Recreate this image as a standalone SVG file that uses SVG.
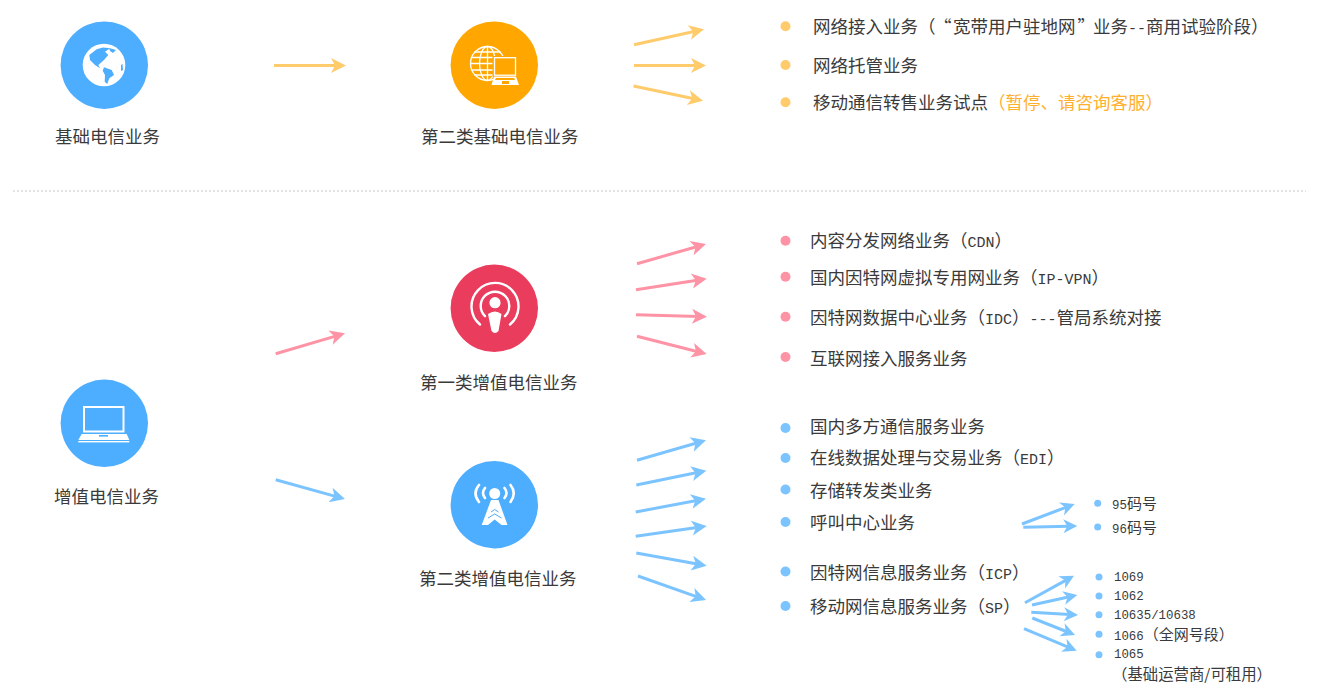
<svg xmlns="http://www.w3.org/2000/svg" width="1331" height="696" viewBox="0 0 1331 696">
<style>
text{font-family:"Noto Sans CJK SC","Noto Sans",sans-serif;font-size:17.5px;fill:#3a3a3a}
.m{font-family:"Liberation Mono","Noto Sans CJK SC",monospace;font-size:15px}
.s{font-size:15px}
.l{font-size:15.400px}
.sm{font-family:"Liberation Mono","Noto Sans CJK SC",monospace;font-size:12.400px}
.o{fill:#ffb02e}
.co{fill:#ffcb6b}.cp{fill:#ff93a6}.cb{fill:#7cc4ff}
.a{fill:none;stroke-width:3}
.ao{stroke:#ffcb6b;marker-end:url(#mo)}
.ap{stroke:#ff93a6;marker-end:url(#mp)}
.ab{stroke:#7cc4ff;marker-end:url(#mb)}
.as{stroke:#7cc4ff;stroke-width:3;marker-end:url(#ms)}
.w{fill:none;stroke:#fff;stroke-linecap:round}
</style>
<defs>
<marker id="mo" markerUnits="userSpaceOnUse" markerWidth="18" markerHeight="18" refX="7" refY="7.5" orient="auto" overflow="visible"><path d="M0 0L15 7.500L0 15L4 7.500Z" fill="#ffcb6b"/></marker>
<marker id="mp" markerUnits="userSpaceOnUse" markerWidth="18" markerHeight="18" refX="7" refY="7.5" orient="auto" overflow="visible"><path d="M0 0L15 7.500L0 15L4 7.500Z" fill="#ff93a6"/></marker>
<marker id="mb" markerUnits="userSpaceOnUse" markerWidth="18" markerHeight="18" refX="7" refY="7.5" orient="auto" overflow="visible"><path d="M0 0L15 7.500L0 15L4 7.500Z" fill="#7cc4ff"/></marker>
<marker id="ms" markerUnits="userSpaceOnUse" markerWidth="18" markerHeight="18" refX="6" refY="7" orient="auto" overflow="visible"><path d="M0 0L14 7L0 14L4 7Z" fill="#7cc4ff"/></marker>
</defs>
<rect width="1331" height="696" fill="#fff"/>
<line id="divider" x1="13" y1="191" x2="1306" y2="191" stroke="#c9c9c9" stroke-dasharray="2 2"/>

<g id="connectors">
<path class="a ao" d="M274 65.500H338"/>
<path class="a ao" d="M634 44.700L696.200 31"/>
<path class="a ao" d="M634 65.500H698"/>
<path class="a ao" d="M633.500 86L695.200 99"/>
<path class="a ap" d="M275.700 353.700L337.300 335.600"/>
<path class="a ap" d="M637 263.700L698.300 246.200"/>
<path class="a ap" d="M636 289.700L698.800 279.900"/>
<path class="a ap" d="M636 314.700L699 316.500"/>
<path class="a ap" d="M637 336.300L698.900 352"/>
<path class="a ab" d="M275.700 479.700L337.300 496.900"/>
<path class="a ab" d="M637 460.300L698.300 442.500"/>
<path class="a ab" d="M636.300 485L698.500 472.300"/>
<path class="a ab" d="M635.700 512L698.100 500.200"/>
<path class="a ab" d="M635.700 536.300L698.800 527.200"/>
<path class="a ab" d="M636.300 553L698.800 564.300"/>
<path class="a ab" d="M638 576L698.500 597.300"/>
<path class="a as" d="M1022 524L1067.200 506.800"/>
<path class="a as" d="M1023.300 527.300L1069.300 526.200"/>
<path class="a as" d="M1025 602.700L1067 579.600"/>
<path class="a as" d="M1032 605L1069.500 596.700"/>
<path class="a as" d="M1031.300 612.300L1070 614.500"/>
<path class="a as" d="M1032.300 618L1067.600 632"/>
<path class="a as" d="M1024 628.700L1069.300 647.600"/>
</g>

<g id="node-basic">
<circle cx="104.300" cy="65.200" r="43.700" fill="#4dadff"/>
<circle cx="104" cy="65" r="21.300" fill="#fff"/>
<path d="M89.300 55L96.700 49.300L103 47.500L110 48.300L105 51.700L108.300 55L104 60L98.300 65L100 68.300L95 65L90 60Z" fill="#4dadff"/>
<path d="M104 67.300L111.700 70L114 75L109.300 78.300L107.300 84L104.700 81.700L105 75L102.700 70.700Z" fill="#4dadff"/>
<path d="M109 48L116 50L113 53L110 51Z" fill="#4dadff"/>
<path d="M121 65L122.500 64L123 70L121 71Z" fill="#4dadff"/>
<text x="55" y="143">基础电信业务</text>
</g>

<g id="node-basic-2">
<circle cx="494.300" cy="65.200" r="43.700" fill="#ffa700"/>
<g class="w" stroke-width="1.300">
<circle cx="487.500" cy="63.500" r="17"/>
<ellipse cx="487.500" cy="63.500" rx="8" ry="17"/>
<path d="M487.500 46.500V80.500M471.500 57.500H503.500M470.500 63.500H504.500M471.500 70H503.500M475 52H500M475 75H500"/>
</g>
<rect x="492.500" y="56" width="25" height="21" fill="#ffa700"/>
<rect x="494.500" y="57.700" width="21" height="17.500" fill="#ffa700" stroke="#fff" stroke-width="1.300"/>
<path d="M494 76.500H516L519 85H491.500Z" fill="#fff"/>
<path d="M496 78H514L515 80H495Z" fill="#ffa700"/>
<path d="M502 81H509V84H502Z" fill="#ffa700"/>
<text x="421" y="143">第二类基础电信业务</text>
</g>

<g id="node-vas">
<circle cx="104.300" cy="423.300" r="43.700" fill="#4dadff"/>
<rect x="84" y="407" width="39.500" height="24.500" fill="#4dadff" stroke="#fff" stroke-width="2"/>
<path d="M81.700 434H126.700L129.300 440H78.300Z" fill="#fff"/>
<rect x="99" y="435" width="9" height="1.600" fill="#4dadff"/>
<rect x="78.300" y="441" width="51" height="1.400" fill="#fff"/>
<text x="54" y="503">增值电信业务</text>
</g>

<g id="node-vas-1">
<circle cx="494.300" cy="308.300" r="43.700" fill="#ea3c5c"/>
<path class="w" stroke-width="2.400" d="M480 324.500A23.500 23.500 0 1 1 510 324.500"/>
<path class="w" stroke-width="2.400" d="M485 316.200A14.300 14.300 0 1 1 505 316.200"/>
<circle cx="495" cy="302.700" r="5.600" fill="#fff"/>
<path d="M488 314Q495 309 501.500 314L498.500 331Q495 335 491.500 331Z" fill="#fff"/>
<text x="420" y="389">第一类增值电信业务</text>
</g>

<g id="node-vas-2">
<circle cx="494.300" cy="504.700" r="43.700" fill="#4dadff"/>
<circle cx="494.700" cy="493.500" r="5.500" fill="#fff"/>
<path class="w" stroke-width="2.600" d="M485 488Q481 493 485 498M504.500 488Q508.500 493 504.500 498M479 485Q472 493 479 502M510.500 485Q517 493 510.500 502"/>
<path d="M491 500H498.500L507.500 525H501.500L494.700 519.500L488 525H481.700Z" fill="#fff"/>
<path d="M491 512L494.700 509.500L498.500 512M488 518L494.700 514L501.500 518" fill="none" stroke="#4dadff" stroke-width="1"/>
<text x="419" y="585">第二类增值电信业务</text>
</g>

<g id="list-basic-2">
<circle class="co" cx="785.500" cy="26.300" r="5"/>
<circle class="co" cx="785.500" cy="65" r="5"/>
<circle class="co" cx="785.500" cy="102.300" r="5"/>
<text y="33"><tspan x="813">网络接入业务（</tspan><tspan x="934">“</tspan><tspan x="953">宽带用户驻地网</tspan><tspan x="1077.500">”</tspan><tspan x="1093">业务</tspan><tspan class="m" x="1128">--</tspan><tspan x="1146">商用试验阶段）</tspan></text>
<text x="813" y="72">网络托管业务</text>
<text x="813" y="109">移动通信转售业务试点<tspan class="o">（暂停、请咨询客服）</tspan></text>
</g>

<g id="list-vas-1">
<circle class="cp" cx="785.500" cy="240.700" r="5"/>
<circle class="cp" cx="785.500" cy="276.700" r="5"/>
<circle class="cp" cx="785.500" cy="316.700" r="5"/>
<circle class="cp" cx="785.500" cy="357" r="5"/>
<text x="810" y="247">内容分发网络业务（<tspan class="m">CDN</tspan>）</text>
<text x="810" y="284">国内因特网虚拟专用网业务（<tspan class="m">IP-VPN</tspan>）</text>
<text x="810" y="323.500">因特网数据中心业务（<tspan class="m">IDC</tspan>）<tspan class="m">---</tspan>管局系统对接</text>
<text x="810" y="365">互联网接入服务业务</text>
</g>

<g id="list-vas-2">
<circle class="cb" cx="785.500" cy="428" r="5"/>
<circle class="cb" cx="785.500" cy="458" r="5"/>
<circle class="cb" cx="785.500" cy="489.500" r="5"/>
<circle class="cb" cx="785.500" cy="522" r="5"/>
<circle class="cb" cx="785.500" cy="571.500" r="5"/>
<circle class="cb" cx="785.500" cy="606" r="5"/>
<text x="810" y="433">国内多方通信服务业务</text>
<text x="810" y="464">在线数据处理与交易业务（<tspan class="m">EDI</tspan>）</text>
<text x="810" y="497">存储转发类业务</text>
<text x="810" y="529">呼叫中心业务</text>
<text x="810" y="579">因特网信息服务业务（<tspan class="m">ICP</tspan>）</text>
<text x="810" y="613">移动网信息服务业务（<tspan class="m">SP</tspan>）</text>
</g>

<g id="list-call-center">
<circle class="cb" cx="1097.700" cy="503.300" r="3.500"/>
<circle class="cb" cx="1097.700" cy="527" r="3.500"/>
<text x="1112" y="508.500"><tspan class="sm">95</tspan><tspan class="s">码号</tspan></text>
<text x="1112" y="533"><tspan class="sm">96</tspan><tspan class="s">码号</tspan></text>
</g>

<g id="list-sp">
<circle class="cb" cx="1099" cy="577" r="3.500"/>
<circle class="cb" cx="1099" cy="596" r="3.500"/>
<circle class="cb" cx="1099" cy="614.700" r="3.500"/>
<circle class="cb" cx="1099" cy="634.300" r="3.500"/>
<circle class="cb" cx="1099" cy="654.700" r="3.500"/>
<text class="sm" x="1114" y="581">1069</text>
<text class="sm" x="1114" y="600">1062</text>
<text class="sm" x="1114" y="619">10635/10638</text>
<text x="1114" y="640"><tspan class="sm">1066</tspan><tspan class="s">（全网号段）</tspan></text>
<text class="sm" x="1114" y="658">1065</text>
<text class="l" x="1112" y="680">（基础运营商/可租用）</text>
</g>
</svg>
